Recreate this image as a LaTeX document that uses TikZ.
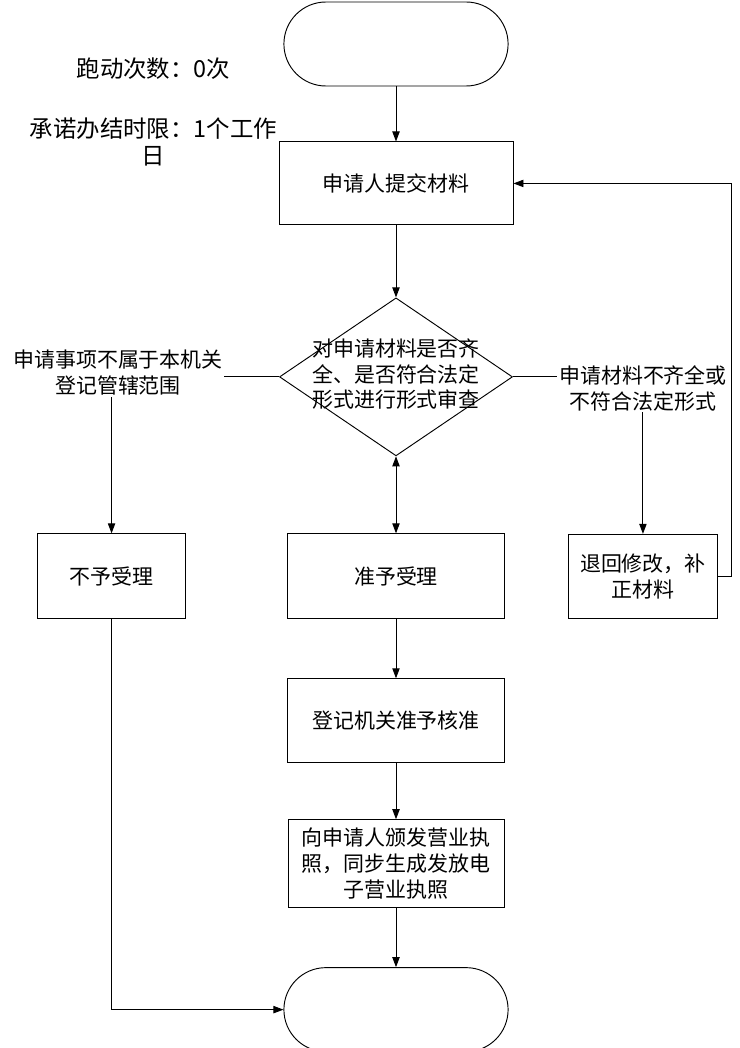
\documentclass[tikz,border=0pt]{standalone}
\usepackage{fontspec}
\setmainfont{Noto Sans CJK SC}
\usepackage{tikz}
\usetikzlibrary{arrows.meta}
\usetikzlibrary{shapes.geometric,shapes.misc}
\usetikzlibrary{positioning}

\begin{document}
\begin{tikzpicture}[
    font=\fontsize{17.9}{22.2}\selectfont, % Text size of the whole chart
    line width=0.8pt,
    terminal/.style={rounded rectangle, draw, minimum width=6.96cm, minimum height=2.52cm}, % Start and end: rounded ends
    process/.style={rectangle, draw, align=center, inner sep=2pt}, % Steps: plain boxes
    decision/.style={diamond, draw, minimum width=6.99cm, minimum height=4.74cm, inner sep=0pt}, % Check: diamond
    note/.style={align=center, inner sep=1pt}, % Free text beside the chart
    flow/.style={-{Triangle[length=0.3cm,width=0.22cm]}}, % One way arrow
    twoway/.style={{Triangle[length=0.3cm,width=0.22cm]}-{Triangle[length=0.3cm,width=0.22cm]}} % Two way arrow
]
    \useasboundingbox (0,0) rectangle (22.17,-31.44);

    % Main column, each node below the one before
    \node[terminal] (start) at (11.88,-1.32) {};
    \node[process, minimum width=7.02cm, minimum height=2.49cm] (submit) [below=1.65cm of start] {申请人提交材料};
    \node[decision] (check) [below=2.16cm of submit] {\makebox[0pt]{\fontsize{17.9}{21.3}\selectfont\begin{tabular}{@{}c@{}}对申请材料是否齐\\全、是否符合法定\\形式进行形式审查\end{tabular}}};
    \node[process, minimum width=6.51cm, minimum height=2.55cm] (accept) [below=2.31cm of check] {准予受理};
    \node[process, minimum width=6.51cm, minimum height=2.52cm] (approve) [below=1.77cm of accept] {登记机关准予核准};
    \node[process, minimum width=6.48cm, minimum height=2.64cm] (issue) [below=1.68cm of approve] {向申请人颁发营业执\\照，同步生成发放电\\子营业执照};
    \node[terminal] (finish) [below=1.77cm of issue] {};

    % Side boxes, level with accept
    \node[process, minimum width=4.44cm, minimum height=2.55cm] (reject) [left=3.03cm of accept] {不予受理};
    \node[process, minimum width=4.47cm, minimum height=2.52cm] (revise) [right=1.89cm of accept] {退回修改，补\\正材料};

    % Texts
    \node[note, font=\fontsize{20}{23}\selectfont] (runs) at (4.605,-2.07) {跑动次数：0次};
    \node[note, font=\fontsize{20}{23}\selectfont] (limit) at (4.605,-4.245) {承诺办结时限：1个工作\\日};
    \node[note] (outside) at (3.54,-11.19) {申请事项不属于本机关\\登记管辖范围};
    \node[note] (lacking) at (19.29,-11.64) {申请材料不齐全或\\不符合法定形式};

    % Connectors
    \draw[flow] (start) -- (submit);
    \draw[flow] (submit) -- (check);
    \draw[twoway] (check) -- (accept);
    \draw[flow] (accept) -- (approve);
    \draw[flow] (approve) -- (issue);
    \draw[flow] (issue) -- (finish);
    \draw (check.west) -- (outside.east |- check.west);
    \draw[flow] (outside.south -| reject.north) -- (reject.north);
    \draw (check.east) -- (lacking.west |- check.east);
    \draw[flow] (lacking.south -| revise.north) -- (revise.north);
    \draw[flow] (revise.east) -- ++(0.42,0) |- (submit.east);
    \draw[flow] (reject.south) |- (finish.west);
\end{tikzpicture}
\end{document}
